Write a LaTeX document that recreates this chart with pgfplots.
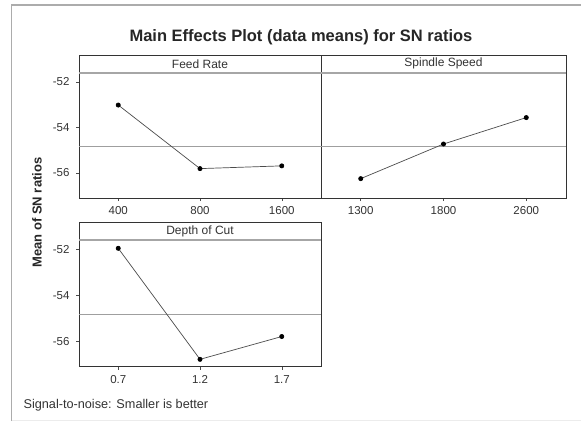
\documentclass[border=0pt]{standalone}
\usepackage{pgfplots}
\pgfplotsset{compat=1.18}
\usepackage{fontspec}
\setmainfont{Liberation Sans}
\begin{document}
\begin{tikzpicture}[x=1pt,y=1pt]
\path[use as bounding box] (0,0) rectangle (581,421);
\fill[white] (0,0) rectangle (581,421);
\draw[gray!65, line width=1.6pt] (11.5,0) -- (11.5,416) -- (581,416);
\draw[gray!15, line width=0.8pt] (11.5,1) -- (581,1);
\node[font=\fontsize{16.5}{19}\selectfont\bfseries, text=black!85] at (301,384) {Main Effects Plot (data means) for SN ratios};

\pgfplotsset{panel/.style={
  scale only axis, width=242pt, height=125.3pt,
  xmin=0.52, xmax=3.48, ymin=-57.1, ymax=-51.6,
  xtick={1,2,3}, ytick={-56,-54,-52}, yticklabels={-56,-54,-52},
  tick pos=left, tick align=outside,
  major tick length=3pt,
  tick style={black!70, line width=0.5pt},
  axis line style={black!80, line width=0.6pt},
  tick label style={font=\fontsize{11.5}{13}\selectfont, text=black!80},
  xticklabel style={yshift=-2pt},
  yticklabel style={xshift=-3pt},
  /pgf/number format/assume math mode=true,
  anchor=south west},
  meanline/.style={gray!75, line width=0.8pt, no marks},
  dataline/.style={black!70, line width=0.7pt, mark=*, mark size=2.1pt, mark options={black, fill=black}}
}

% Feed Rate
\begin{axis}[panel, at={(79pt,223pt)}, xticklabels={400,800,1600}]
\addplot[meanline] coordinates {(0.52,-54.85) (3.48,-54.85)};
\addplot[dataline] coordinates {(1,-53.02) (2,-55.81) (3,-55.69)};
\end{axis}

% Spindle Speed
\begin{axis}[panel, at={(321pt,223pt)}, width=245pt, xticklabels={1300,1800,2600}, ytick=\empty]
\addplot[meanline] coordinates {(0.52,-54.85) (3.48,-54.85)};
\addplot[dataline] coordinates {(1,-56.25) (2,-54.73) (3,-53.57)};
\end{axis}

% Depth of Cut
\begin{axis}[panel, at={(79pt,54.3pt)}, height=126.7pt, xticklabels={0.7,1.2,1.7}]
\addplot[meanline] coordinates {(0.52,-54.85) (3.48,-54.85)};
\addplot[dataline] coordinates {(1,-51.96) (2,-56.78) (3,-55.79)};
\end{axis}

% strips
\draw[black!80, line width=0.6pt] (79,348.3) rectangle (566,366);
\draw[black!80, line width=0.6pt] (321,348.3) -- (321,366);
\draw[gray!70, line width=1.8pt] (79,348.3) -- (566,348.3);
\node[font=\fontsize{12}{14}\selectfont, text=black!80] at (200,357.2) {Feed Rate};
\node[font=\fontsize{12}{14}\selectfont, text=black!80] at (443.5,357.2) {Spindle Speed};

\draw[black!80, line width=0.6pt] (79,181) rectangle (321,198.3);
\draw[gray!70, line width=1.8pt] (79,181) -- (321,181);
\node[font=\fontsize{12}{14}\selectfont, text=black!80] at (200,189.7) {Depth of Cut};

\node[rotate=90, font=\fontsize{13}{15}\selectfont\bfseries, text=black!85] at (37,208.5) {Mean of SN ratios};
\node[anchor=west, font=\fontsize{12.7}{15}\selectfont, text=black!80] at (20,16) {Signal-to-noise: Smaller is better};
\end{tikzpicture}
\end{document}
